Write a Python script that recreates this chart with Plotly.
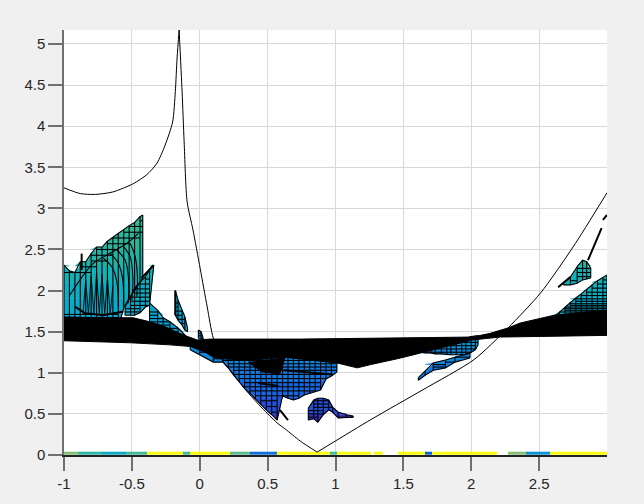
import plotly.graph_objects as go

# thin black outline curve
curve_x = [-1, -0.88, -0.77, -0.64, -0.49, -0.39, -0.315, -0.255, -0.20, -0.18, -0.167, -0.152]
curve_y = [3.25, 3.18, 3.17, 3.20, 3.30, 3.41, 3.55, 3.77, 4.05, 4.42, 4.83, 5.17]
curve2_x = [-0.152, -0.13, -0.115, -0.093, -0.05, 0.003, 0.055, 0.10, 0.173, 0.24, 0.357, 0.46, 0.57, 0.63, 0.74, 0.865]
curve2_y = [5.17, 4.42, 3.81, 3.08, 2.74, 2.27, 1.80, 1.42, 1.14, 1.0, 0.755, 0.57, 0.39, 0.316, 0.17, 0.035]
curve3_x = [0.865, 1.26, 1.64, 2.02, 2.27, 2.51, 2.75, 3.0]
curve3_y = [0.035, 0.43, 0.79, 1.16, 1.545, 1.97, 2.53, 3.19]

# solid black band, upper and lower edge
band_up_x = [-1, -0.735, -0.49, -0.366, -0.255, -0.122, -0.019, 0.077, 0.74, 1.478, 2.009, 2.14, 2.27, 2.36, 2.51, 2.61, 2.78, 3.0]
band_up_y = [1.68, 1.67, 1.67, 1.62, 1.56, 1.46, 1.40, 1.41, 1.41, 1.42, 1.435, 1.48, 1.545, 1.605, 1.66, 1.70, 1.73, 1.76]
band_lo_x = [-1, -0.51, -0.22, -0.07, 0.04, 0.10, 0.17, 0.37, 0.615, 0.81, 1.01, 1.16, 1.26, 1.48, 1.72, 2.01, 2.215, 3.0]
band_lo_y = [1.39, 1.365, 1.34, 1.32, 1.25, 1.19, 1.17, 1.15, 1.19, 1.155, 1.12, 1.06, 1.10, 1.18, 1.28, 1.40, 1.435, 1.455]

# black lobe hanging under the band
lobe_x = [0.357, 0.46, 0.59, 0.63]
lobe_y = [1.13, 1.01, 0.985, 1.19]

# surface pieces: column x, top and bottom of each column
a_x = [-1, -0.96, -0.92, -0.88, -0.84, -0.80, -0.76, -0.72, -0.68, -0.64, -0.60, -0.56, -0.52, -0.48, -0.44, -0.42]
a_top = [2.31, 2.24, 2.22, 2.35, 2.35, 2.45, 2.53, 2.53, 2.60, 2.65, 2.70, 2.74, 2.79, 2.83, 2.90, 2.92]
a_bot = [1.55, 1.55, 1.55, 1.55, 1.55, 1.55, 1.55, 1.55, 1.55, 1.55, 1.55, 1.79, 1.91, 2.0, 2.10, 2.15]
a_rows = [1.58, 1.61, 1.64, 1.67, 1.71, 2.22, 2.29, 2.36, 2.43, 2.50, 2.57, 2.64, 2.71, 2.78, 2.85]

b_x = [-0.55, -0.51, -0.48, -0.44, -0.40, -0.37, -0.34]
b_top = [1.80, 1.92, 2.03, 2.10, 2.17, 2.25, 2.31]
b_bot = [1.70, 1.70, 1.70, 1.73, 1.80, 1.82, 2.29]
b_rows = [1.74, 1.78, 1.82, 1.87, 1.92, 1.97, 2.02, 2.08, 2.14, 2.2]

c_x = [-0.37, -0.31, -0.27, -0.22, -0.16, -0.12, -0.085]
c_top = [1.85, 1.76, 1.67, 1.62, 1.545, 1.48, 1.42]
c_bot = [1.6, 1.55, 1.52, 1.5, 1.44, 1.4, 1.38]
c_rows = [1.46, 1.5, 1.54, 1.58, 1.62, 1.66, 1.7, 1.74, 1.78]

d_x = [-0.18, -0.16, -0.13, -0.11, -0.09]
d_top = [2.0, 1.885, 1.76, 1.68, 1.545]
d_bot = [1.70, 1.64, 1.58, 1.52, 1.50]
d_rows = [1.55, 1.6, 1.65, 1.7, 1.75, 1.8, 1.85]

e_x = [-0.01, 0.01, 0.025]
e_top = [1.52, 1.50, 1.42]
e_bot = [1.42, 1.42, 1.41]
e_rows = [1.45, 1.48]

f_x = [0.17, 0.21, 0.25, 0.29, 0.33, 0.37, 0.41, 0.45, 0.49, 0.53, 0.57, 0.61, 0.65, 0.69, 0.73, 0.77, 0.81, 0.85, 0.89, 0.93, 0.97, 1.01]
f_top = [1.2] * 22
f_bot = [1.13, 1.06, 0.97, 0.89, 0.81, 0.75, 0.68, 0.61, 0.55, 0.49, 0.425, 0.72, 0.69, 0.67, 0.69, 0.73, 0.75, 0.77, 0.79, 0.925, 0.96, 1.01]
f_rows = [0.45, 0.52, 0.59, 0.66, 0.72, 0.78, 0.83, 0.88, 0.93, 0.98, 1.03, 1.07, 1.11, 1.15]

g_x = [-0.07, 0.0, 0.1, 0.17]
g_top = [1.33, 1.30, 1.25, 1.2]
g_bot = [1.28, 1.22, 1.13, 1.13]
g_rows = [1.17, 1.21, 1.25]

h_x = [0.80, 0.84, 0.87, 0.91, 0.95, 0.98, 1.02, 1.08, 1.13]
h_top = [0.57, 0.67, 0.69, 0.69, 0.67, 0.58, 0.52, 0.49, 0.475]
h_bot = [0.425, 0.44, 0.40, 0.49, 0.55, 0.52, 0.45, 0.46, 0.46]
h_rows = [0.46, 0.5, 0.54, 0.58, 0.62, 0.66]

i_x = [1.625, 1.66, 1.70, 1.735, 1.78, 1.82, 1.85, 1.89, 1.93, 1.96, 2.0, 2.03, 2.05]
i_top = [1.32, 1.32, 1.33, 1.34, 1.36, 1.38, 1.40, 1.41, 1.42, 1.42, 1.44, 1.45, 1.45]
i_bot = [1.25, 1.24, 1.24, 1.23, 1.23, 1.22, 1.22, 1.22, 1.22, 1.22, 1.25, 1.28, 1.34]
i_rows = [1.25, 1.29, 1.33, 1.37]

j_x = [1.61, 1.66, 1.72, 1.81, 1.88, 1.99]
j_top = [0.94, 1.02, 1.12, 1.155, 1.19, 1.24]
j_bot = [0.91, 0.97, 1.03, 1.06, 1.13, 1.18]
j_rows = [0.95, 0.98, 1.01, 1.04, 1.07, 1.1, 1.13, 1.16, 1.19]

k_x = [2.61, 2.65, 2.69, 2.73, 2.77, 2.81, 2.85, 2.89, 2.93, 2.97, 3.0]
k_top = [1.68, 1.74, 1.80, 1.86, 1.91, 1.96, 2.02, 2.07, 2.12, 2.16, 2.19]
k_bot = [1.66, 1.66, 1.68, 1.68, 1.70, 1.70, 1.72, 1.72, 1.74, 1.74, 1.76]
k_rows = [1.74, 1.76, 1.78, 1.80, 1.82, 1.84, 1.87, 1.90, 1.94, 1.98, 2.03, 2.08, 2.13]

l_x = [2.68, 2.73, 2.78, 2.82, 2.85, 2.88]
l_top = [2.10, 2.165, 2.29, 2.37, 2.35, 2.275]
l_bot = [2.07, 2.07, 2.09, 2.13, 2.14, 2.155]
l_rows = [2.12, 2.17, 2.22, 2.27]

patches = [
    (a_x, a_top, a_bot, a_rows, 0.2), (b_x, b_top, b_bot, b_rows, None), (c_x, c_top, c_bot, c_rows, None),
    (d_x, d_top, d_bot, d_rows, None), (e_x, e_top, e_bot, e_rows, None), (f_x, f_top, f_bot, f_rows, None),
    (g_x, g_top, g_bot, g_rows, None), (h_x, h_top, h_bot, h_rows, None), (i_x, i_top, i_bot, i_rows, None),
    (j_x, j_top, j_bot, j_rows, None), (k_x, k_top, k_bot, k_rows, None), (l_x, l_top, l_bot, l_rows, None),
]

# curved ridges on the big left piece
arc_x = [[-0.956, -0.882, -0.784, -0.66, -0.537, -0.452], [-0.513, -0.476, -0.459, -0.464], [-0.562, -0.513, -0.493, -0.50],
         [-0.611, -0.55, -0.526, -0.526], [-0.66, -0.599, -0.567, -0.562], [-0.71, -0.648, -0.611, -0.599]]
arc_y = [[1.946, 2.13, 2.33, 2.454, 2.575, 2.696], [2.575, 2.413, 2.17, 1.925], [2.534, 2.413, 2.17, 1.885],
         [2.494, 2.372, 2.17, 1.845], [2.454, 2.33, 2.13, 1.825], [2.393, 2.29, 2.11, 1.805]]

# zigzag folds low in the same piece
zig_x = [-0.86, -0.84, -0.82, -0.80, -0.78, -0.76, -0.74, -0.72, -0.70, -0.68, -0.66, -0.64]
zig_y = [1.72, 2.12, 1.72, 2.18, 1.72, 2.22, 1.72, 2.2, 1.72, 2.15, 1.72, 2.05]

# colour by height
level_edges = [0.3, 0.5, 0.7, 0.9, 1.1, 1.3, 1.5, 1.7, 1.9, 2.1, 2.3, 2.5, 2.7, 3.0]
level_colors = ['#3a33c4', '#2450dc', '#1668e2', '#127ae0', '#0e88de', '#0c96da', '#09a2d6', '#08aacb',
                '#0caec2', '#14b1b6', '#20b4a8', '#2bb69d', '#38b796']

# loose black slivers
spike_x = [[2.86, 2.96], [2.97, 3.0], [2.73, 2.64], [-0.87, -0.87], [-0.18, -0.18], [0.59, 0.65], [-0.43, -0.34],
           [0.43, 0.58], [0.62, 0.98], [-0.919, -0.845, -0.71, -0.562]]
spike_y = [[2.37, 2.76], [2.86, 2.92], [2.165, 2.04], [2.25, 2.45], [1.70, 2.0], [0.55, 0.425], [2.15, 2.31],
           [0.875, 0.84], [1.03, 0.98], [1.805, 1.724, 1.70, 1.745]]

# coloured strip lying along y = 0
strip_edges = [-1, -0.90, -0.72, -0.54, -0.39, -0.12, -0.07, 0.22, 0.37, 0.57, 0.72, 0.865, 0.96, 1.01, 1.26, 1.28,
               1.35, 1.46, 1.53, 1.66, 1.71, 2.12, 2.19, 2.27, 2.40, 2.58, 2.71, 2.88, 3.0]
strip_values = [0.5, 0.4, 0.32, 0.42, 1, 0.42, 1, 0.45, 0.15, 1, 1, 1, 0.42, 1, None,
                1, None, 1, 1, 0.12, 1, 1, None, 0.5, 0.25, 1, 1, 1]
strip_height = [0, 0.04]

xticks = [-1, -0.5, 0, 0.5, 1, 1.5, 2, 2.5]
xtick_labels = ['-1', '-0.5', '0', '0.5', '1', '1.5', '2', '2.5']
yticks = [0, 0.5, 1, 1.5, 2, 2.5, 3, 3.5, 4, 4.5, 5]
ytick_labels = ['0', '0.5', '1', '1.5', '2', '2.5', '3', '3.5', '4', '4.5', '5']

parula = [[0, '#352a87'], [0.1, '#0f5cdd'], [0.2, '#1481d6'], [0.3, '#06a4ca'], [0.4, '#2eb7a4'],
          [0.5, '#87bf77'], [0.6, '#d1bb59'], [0.7, '#fec832'], [1, '#f9fb0e']]


def band_polygons(lo, hi):
    xs, ys = [], []
    for px, top, bot, _, _ in patches:
        for i in range(len(px) - 1):
            t0, t1 = min(top[i], hi), min(top[i + 1], hi)
            b0, b1 = max(bot[i], lo), max(bot[i + 1], lo)
            if t0 <= b0 and t1 <= b1:
                continue
            t0, t1 = max(t0, b0), max(t1, b1)
            xs += [px[i], px[i + 1], px[i + 1], px[i], px[i], None]
            ys += [t0, t1, b1, b0, t0, None]
    return xs, ys


def mesh_lines():
    xs, ys = [], []
    for px, top, bot, rows, depth in patches:
        # columns
        for i in range(len(px)):
            xs += [px[i], px[i], None]
            ys += [bot[i], top[i], None]
        # outline
        xs += list(px) + [None] + list(px) + [None]
        ys += list(top) + [None] + list(bot) + [None]
        # rows, some pieces only have them near the top edge and the band
        for r in rows:
            for i in range(len(px) - 1):
                if bot[i] <= r <= top[i] and bot[i + 1] <= r <= top[i + 1]:
                    if depth and r > 1.8 and top[i] - r > depth:
                        continue
                    xs += [px[i], px[i + 1], None]
                    ys += [r, r, None]
    return xs, ys


fig = go.Figure()

fig.add_trace(go.Heatmap(x=strip_edges, y=strip_height, z=[strip_values], colorscale=parula,
                         zmin=0, zmax=1, showscale=False, hoverongaps=False))

for k, color in enumerate(level_colors):
    bx, by = band_polygons(level_edges[k], level_edges[k + 1])
    fig.add_trace(go.Scatter(x=bx, y=by, mode='lines', fill='toself', fillcolor=color,
                             line=dict(color=color, width=0.5), hoverinfo='skip'))

mx, my = mesh_lines()
fig.add_trace(go.Scatter(x=mx, y=my, mode='lines', line=dict(color='black', width=1.1), hoverinfo='skip'))

for ax, ay in zip(arc_x, arc_y):
    fig.add_trace(go.Scatter(x=ax, y=ay, mode='lines', line=dict(color='black', width=1.1, shape='spline'), hoverinfo='skip'))
fig.add_trace(go.Scatter(x=zig_x, y=zig_y, mode='lines', line=dict(color='black', width=0.9), hoverinfo='skip'))

fig.add_trace(go.Scatter(x=band_up_x + band_lo_x[::-1], y=band_up_y + band_lo_y[::-1], mode='lines', fill='toself',
                         fillcolor='black', line=dict(color='black', width=1), hoverinfo='skip'))
fig.add_trace(go.Scatter(x=lobe_x, y=lobe_y, mode='lines', fill='toself', fillcolor='black',
                         line=dict(color='black', width=1), hoverinfo='skip'))

for sx, sy in zip(spike_x, spike_y):
    fig.add_trace(go.Scatter(x=sx, y=sy, mode='lines', line=dict(color='black', width=2), hoverinfo='skip'))

# three smooth legs meeting at the peak and at the minimum
for cx, cy in [(curve_x, curve_y), (curve2_x, curve2_y), (curve3_x, curve3_y)]:
    fig.add_trace(go.Scatter(x=cx, y=cy, mode='lines', line=dict(color='black', width=1, shape='spline', smoothing=0.7),
                             hoverinfo='skip'))

fig.update_layout(
    width=644, height=504,
    margin=dict(l=64, r=37, t=30, b=49),
    paper_bgcolor='#f0f0f0',
    plot_bgcolor='white',
    showlegend=False,
    font=dict(family='Liberation Sans', size=15, color='#262626'),
)
fig.update_xaxes(range=[-1, 3], tickvals=xticks, ticktext=xtick_labels, ticks='outside', ticklen=14, tickwidth=1.5,
                 tickcolor='#707070', showgrid=True, gridcolor='#d9d9d9', gridwidth=1, showline=True,
                 linecolor='#222222', linewidth=1.5, zeroline=False)
fig.update_yaxes(range=[0, 5.17], tickvals=yticks, ticktext=ytick_labels, ticks='outside', ticklen=14, tickwidth=1.5,
                 tickcolor='#707070', showgrid=True, gridcolor='#d9d9d9', gridwidth=1, showline=True,
                 linecolor='#707070', linewidth=1.5, zeroline=False)

# page margin off so the grey fills the whole window
fig.write_html("out.html", config={'displayModeBar': False},
               post_script="document.body.style.margin='0';document.body.style.background='#f0f0f0';")
